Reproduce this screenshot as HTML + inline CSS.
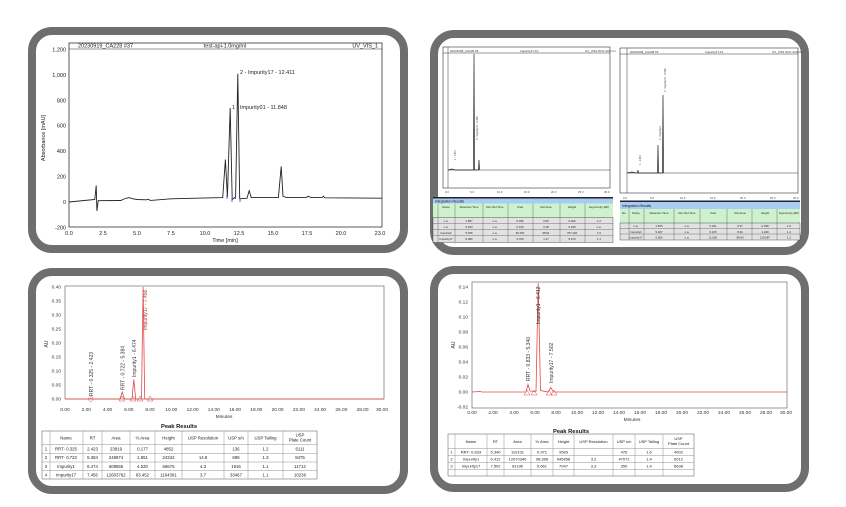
<!DOCTYPE html>
<html><head><meta charset="utf-8"><style>
html,body{margin:0;padding:0;background:#fff;}
svg{display:block;font-family:"Liberation Sans",sans-serif;}
</style></head><body>
<svg width="846" height="507" viewBox="0 0 846 507" xmlns="http://www.w3.org/2000/svg">
<rect width="846" height="507" fill="#fff"/>
<!-- panel frames -->
<g fill="#fff" stroke="#6e6e6e" stroke-width="8">
<rect x="32" y="31" width="372" height="218" rx="20"/>
<rect x="434" y="34" width="371" height="217" rx="20"/>
<rect x="32" y="272" width="372" height="218" rx="20"/>
<rect x="434" y="270" width="371" height="218" rx="20"/>
</g>

<!-- PANEL 1 -->
<g>
<rect x="69" y="43" width="313" height="184" fill="#fff" stroke="#333" stroke-width="0.8"/>
<line x1="69" y1="49" x2="382" y2="49" stroke="#333" stroke-width="0.6"/>
<text x="78" y="47.5" font-size="5.5" fill="#222">20230919_CA228 #37</text>
<text x="225" y="47.5" font-size="5.5" fill="#222" text-anchor="middle">test-api-1.0mg/ml</text>
<text x="378" y="47.5" font-size="5.5" fill="#222" text-anchor="end">UV_VIS_1</text>
<g font-size="5.5" fill="#222" text-anchor="end">
<text x="66" y="51.5">1,200</text><text x="66" y="76.9">1,000</text><text x="66" y="102.3">800</text>
<text x="66" y="127.7">600</text><text x="66" y="153.1">400</text><text x="66" y="178.5">200</text>
<text x="66" y="203.9">0</text><text x="66" y="229.3">-200</text>
</g>
<g font-size="5.5" fill="#222" text-anchor="middle">
<text x="69" y="235">0.0</text><text x="103" y="235">2.5</text><text x="137" y="235">5.0</text>
<text x="171" y="235">7.5</text><text x="205" y="235">10.0</text><text x="239" y="235">12.5</text>
<text x="273" y="235">15.0</text><text x="307" y="235">17.5</text><text x="341" y="235">20.0</text>
<text x="380" y="235">23.0</text>
<text x="225" y="242">Time [min]</text>
</g>
<text transform="translate(45,138) rotate(-90)" font-size="5.5" fill="#222" text-anchor="middle">Absorbance [mAU]</text>
<polyline fill="none" stroke="#222" stroke-width="0.9" points="69,202 94.8,199.5 96.2,185.5 96.9,210.9 98.2,200.7 120.7,200.5 124,199 128.8,197.6 133,198.8 137,199.5 146.5,199.8 147.9,199.2 150.6,200.4 171,198.8 222.7,197.6 225.4,159.5 227.4,197 230.2,108 232.2,199.5 235.6,197 237.8,73.7 239.7,198.8 247,198.2 249.2,190.6 251.2,197.6 278.4,197.6 281.2,166.4 283,196.3 286.6,197.6 305.6,197.6 308.4,196.3 311.1,197.6 322,197.6 323.4,196.3 324.8,197.8 381.8,198.2"/>
<g stroke="#33d" stroke-width="0.8"><line x1="227" y1="195" x2="227" y2="199"/><line x1="232" y1="198" x2="232" y2="202"/><line x1="235.5" y1="195" x2="235.5" y2="199"/><line x1="240" y1="198" x2="240" y2="202"/></g>
<text x="232" y="109" font-size="5.5" fill="#222">1 - Impurity01 - 11.848</text>
<text x="240" y="74" font-size="5.5" fill="#222">2 - Impurity17 - 12.411</text>
</g>

<!-- PANEL 2 left -->
<g>
<rect x="443" y="47" width="167" height="141" fill="#fff" stroke="#333" stroke-width="0.6"/>
<line x1="443" y1="53" x2="610" y2="53" stroke="#333" stroke-width="0.5"/>
<line x1="448" y1="47" x2="448" y2="188" stroke="#333" stroke-width="0.5"/>
<g font-size="3" fill="#333"><text x="450" y="52">20231008_CA228 #6</text><text x="520" y="52">Impurity17-10</text><text x="585" y="52">UV_VIS1 WVL:220 nm</text></g>
<line x1="448" y1="170" x2="610" y2="170" stroke="#333" stroke-width="0.6"/>
<polyline fill="none" stroke="#222" stroke-width="0.7" points="448,170 452,169 455,170 473.5,170 474,54 474.5,170 478.5,170 479,160 479.5,170"/>
<g font-size="2.8" fill="#444"><text x="445" y="193">0.0</text><text x="470" y="193">5.0</text><text x="497" y="193">10.0</text><text x="524" y="193">15.0</text><text x="551" y="193">20.0</text><text x="578" y="193">25.0</text><text x="604" y="193">30.0</text></g>
<text transform="translate(456,160) rotate(-90)" font-size="2.5" fill="#444">1 - 1.857</text>
<text transform="translate(478,140) rotate(-90)" font-size="2.5" fill="#444">3 - Impurity17 - 6.380</text>
<rect x="433" y="197" width="180" height="1.5" fill="#223"/>
<rect x="433" y="198.5" width="180" height="5" fill="#a9cdf0"/>
<text x="435" y="202.5" font-size="3.5" fill="#112">Integration Results</text>
<rect x="433" y="203.5" width="180" height="14" fill="#cdf2cd"/>
<rect x="433" y="217.5" width="180" height="25" fill="#e2e2e2" stroke="#333" stroke-width="0.4"/>
<g stroke="#555" stroke-width="0.4"><line x1="438" y1="203.5" x2="438" y2="242.5"/><line x1="455" y1="203.5" x2="455" y2="242.5"/><line x1="483" y1="203.5" x2="483" y2="242.5"/><line x1="508" y1="203.5" x2="508" y2="242.5"/><line x1="533" y1="203.5" x2="533" y2="242.5"/><line x1="560" y1="203.5" x2="560" y2="242.5"/><line x1="585" y1="203.5" x2="585" y2="242.5"/>
<line x1="433" y1="223.5" x2="613" y2="223.5"/><line x1="433" y1="229.5" x2="613" y2="229.5"/><line x1="433" y1="235.5" x2="613" y2="235.5"/></g>
<g font-size="2.8" fill="#222" text-anchor="middle"><text x="446" y="208">Name</text><text x="469" y="208">Retention Time</text><text x="495" y="208">Rel. Ret.Time</text><text x="520" y="208">Area</text><text x="546" y="208">Rel.Area</text><text x="572" y="208">Height</text><text x="599" y="208">Asymmetry (EP)</text>
<text x="446" y="222">n.a.</text><text x="469" y="222">1.857</text><text x="495" y="222">n.a.</text><text x="520" y="222">0.036</text><text x="546" y="222">0.06</text><text x="572" y="222">0.460</text><text x="599" y="222">1.2</text>
<text x="446" y="228">n.a.</text><text x="469" y="228">5.223</text><text x="495" y="228">n.a.</text><text x="520" y="228">0.106</text><text x="546" y="228">0.18</text><text x="572" y="228">0.918</text><text x="599" y="228">n.a.</text>
<text x="446" y="234">Impurity1</text><text x="469" y="234">5.455</text><text x="495" y="234">n.a.</text><text x="520" y="234">63.781</text><text x="546" y="234">98.61</text><text x="572" y="234">757.226</text><text x="599" y="234">1.5</text>
<text x="446" y="240">Impurity17</text><text x="469" y="240">6.380</text><text x="495" y="240">n.a.</text><text x="520" y="240">0.760</text><text x="546" y="240">1.17</text><text x="572" y="240">8.270</text><text x="599" y="240">1.1</text></g>
</g>

<!-- PANEL 2 right -->
<g>
<rect x="620" y="48" width="178" height="145" fill="#fff" stroke="#333" stroke-width="0.6"/>
<line x1="620" y1="54" x2="798" y2="54" stroke="#333" stroke-width="0.5"/>
<line x1="627" y1="48" x2="627" y2="193" stroke="#333" stroke-width="0.5"/>
<g font-size="3" fill="#333"><text x="630" y="53">20231008_CA228 #4</text><text x="705" y="53">Impurity17-12</text><text x="772" y="53">UV_VIS1 WVL:220 nm</text></g>
<line x1="627" y1="173" x2="798" y2="173" stroke="#333" stroke-width="0.6"/>
<polyline fill="none" stroke="#222" stroke-width="0.7" points="627,173 632,172 636,173 637.5,173 638,170 638.5,173 657.5,173 658,145 658.5,173 662.5,173 663,95 663.5,173"/>
<g font-size="2.8" fill="#444"><text x="623" y="199">0.0</text><text x="650" y="199">5.0</text><text x="680" y="199">10.0</text><text x="710" y="199">15.0</text><text x="740" y="199">20.0</text><text x="770" y="199">25.0</text><text x="793" y="199">30.0</text></g>
<text transform="translate(641,165) rotate(-90)" font-size="2.5" fill="#444">1 - 1.815</text>
<text transform="translate(661,140) rotate(-90)" font-size="2.5" fill="#444">2 - Impurity1</text>
<text transform="translate(666,92) rotate(-90)" font-size="2.5" fill="#444">3 - Impurity17 - 6.560</text>
<rect x="620" y="200.5" width="180" height="1.5" fill="#223"/>
<rect x="620" y="202" width="180" height="7" fill="#a9cdf0"/>
<text x="622" y="207" font-size="3.5" fill="#112">Integration Results</text>
<rect x="620" y="209" width="180" height="14" fill="#cdf2cd"/>
<rect x="620" y="223" width="180" height="17" fill="#e2e2e2" stroke="#333" stroke-width="0.4"/>
<g stroke="#555" stroke-width="0.4"><line x1="629" y1="209" x2="629" y2="240"/><line x1="644" y1="209" x2="644" y2="240"/><line x1="674" y1="209" x2="674" y2="240"/><line x1="700" y1="209" x2="700" y2="240"/><line x1="727" y1="209" x2="727" y2="240"/><line x1="752" y1="209" x2="752" y2="240"/><line x1="777" y1="209" x2="777" y2="240"/><line x1="620" y1="228.5" x2="800" y2="228.5"/><line x1="620" y1="234" x2="800" y2="234"/></g>
<g font-size="2.8" fill="#222" text-anchor="middle"><text x="624" y="214">No.</text><text x="636" y="214">Name</text><text x="659" y="214">Retention Time</text><text x="687" y="214">Rel. Ret.Time</text><text x="713" y="214">Area</text><text x="740" y="214">Rel.Area</text><text x="765" y="214">Height</text><text x="789" y="214">Asymmetry (EP)</text>
<text x="636" y="227">n.a.</text><text x="659" y="227">1.815</text><text x="687" y="227">n.a.</text><text x="713" y="227">0.041</text><text x="740" y="227">0.37</text><text x="765" y="227">0.338</text><text x="789" y="227">1.6</text>
<text x="636" y="233">Impurity1</text><text x="659" y="233">5.467</text><text x="687" y="233">n.a.</text><text x="713" y="233">0.105</text><text x="740" y="233">0.94</text><text x="765" y="233">1.249</text><text x="789" y="233">1.2</text>
<text x="636" y="238.5">Impurity17</text><text x="659" y="238.5">6.560</text><text x="687" y="238.5">n.a.</text><text x="713" y="238.5">11.000</text><text x="740" y="238.5">98.69</text><text x="765" y="238.5">119.687</text><text x="789" y="238.5">1.2</text></g>
</g>

<!-- PANEL 3 -->
<g>
<rect x="65" y="286" width="319" height="113" fill="none" stroke="#555" stroke-width="0.6"/>
<g font-size="4.8" fill="#333" text-anchor="end">
<text x="61" y="288.5">0.40</text><text x="61" y="302.5">0.35</text><text x="61" y="316.5">0.30</text><text x="61" y="330.5">0.25</text><text x="61" y="344.5">0.20</text><text x="61" y="358.5">0.15</text><text x="61" y="372.5">0.10</text><text x="61" y="386.5">0.05</text><text x="61" y="400.5">0.00</text></g>
<text transform="translate(48,344) rotate(-90)" font-size="5" fill="#333" text-anchor="middle">AU</text>
<g font-size="4.8" fill="#333" text-anchor="middle">
<text x="65" y="411">0.00</text><text x="86.3" y="411">2.00</text><text x="107.5" y="411">4.00</text><text x="128.8" y="411">6.00</text><text x="150" y="411">8.00</text><text x="171.3" y="411">10.00</text><text x="192.6" y="411">12.00</text><text x="213.8" y="411">14.00</text><text x="235.1" y="411">16.00</text><text x="256.3" y="411">18.00</text><text x="277.6" y="411">20.00</text><text x="298.9" y="411">22.00</text><text x="320.1" y="411">24.00</text><text x="341.4" y="411">26.00</text><text x="362.6" y="411">28.00</text><text x="382" y="411">30.00</text>
<text x="224" y="418">Minutes</text></g>
<polyline fill="none" stroke="#e54848" stroke-width="0.8" points="65,399 89.5,399 90.7,398.4 92,399 120,399 122.2,392 124.5,399 132,399 133.8,379.4 135.7,399 141.5,399 143.1,287 144.7,399 384,399"/>
<g fill="none" stroke="#e54848" stroke-width="0.5"><circle cx="90.7" cy="399" r="2.4"/><path d="M119,401 L122,396 L125,401 Z M130,401 L133,396 L136,401 Z M137,401 L140,396 L143,401 Z M147,401 L150,396 L153,401 Z"/></g>
<g font-size="5" fill="#333">
<text transform="translate(93,396) rotate(-90)">RRT - 0.325 - 2.423</text>
<text transform="translate(124.5,390) rotate(-90)">RRT - 0.722 - 5.384</text>
<text transform="translate(136,377) rotate(-90)">Impurity1 - 6.474</text>
<text transform="translate(147,330) rotate(-90)" fill="#a33">Impurity17 - 7.456</text></g>
<text x="179" y="428" font-size="5.8" font-weight="bold" fill="#111" text-anchor="middle">Peak Results</text>
<rect x="42" y="431" width="275" height="48" fill="#fff" stroke="#555" stroke-width="0.5"/>
<g stroke="#777" stroke-width="0.4">
<line x1="50" y1="431" x2="50" y2="479"/><line x1="83" y1="431" x2="83" y2="479"/><line x1="102" y1="431" x2="102" y2="479"/><line x1="130" y1="431" x2="130" y2="479"/><line x1="155" y1="431" x2="155" y2="479"/><line x1="182" y1="431" x2="182" y2="479"/><line x1="224" y1="431" x2="224" y2="479"/><line x1="248" y1="431" x2="248" y2="479"/><line x1="283" y1="431" x2="283" y2="479"/>
<line x1="42" y1="444.7" x2="317" y2="444.7"/><line x1="42" y1="453.3" x2="317" y2="453.3"/><line x1="42" y1="462" x2="317" y2="462"/><line x1="42" y1="470.7" x2="317" y2="470.7"/></g>
<g font-size="4.3" fill="#222" text-anchor="middle">
<text x="66" y="439.5">Name</text><text x="92.5" y="439.5">RT</text><text x="116" y="439.5">Area</text><text x="142.5" y="439.5">% Area</text><text x="168.5" y="439.5">Height</text><text x="203" y="439.5">USP Resolution</text><text x="236" y="439.5">USP s/n</text><text x="265.5" y="439.5">USP Tailing</text><text x="300" y="436.5">USP</text><text x="300" y="441.5">Plate Count</text>
<text x="46" y="450.5">1</text><text x="66" y="450.5">RRT- 0.325</text><text x="92.5" y="450.5">2.423</text><text x="116" y="450.5">23819</text><text x="142.5" y="450.5">0.177</text><text x="168.5" y="450.5">4852</text><text x="236" y="450.5">136</text><text x="265.5" y="450.5">1.2</text><text x="300" y="450.5">6111</text>
<text x="46" y="459.2">2</text><text x="66" y="459.2">RRT- 0.722</text><text x="92.5" y="459.2">5.384</text><text x="116" y="459.2">248874</text><text x="142.5" y="459.2">1.851</text><text x="168.5" y="459.2">24342</text><text x="203" y="459.2">14.8</text><text x="236" y="459.2">699</text><text x="265.5" y="459.2">1.3</text><text x="300" y="459.2">8475</text>
<text x="46" y="467.9">3</text><text x="66" y="467.9">Impurity1</text><text x="92.5" y="467.9">6.474</text><text x="116" y="467.9">609555</text><text x="142.5" y="467.9">4.520</text><text x="168.5" y="467.9">66675</text><text x="203" y="467.9">4.3</text><text x="236" y="467.9">1916</text><text x="265.5" y="467.9">1.1</text><text x="300" y="467.9">11712</text>
<text x="46" y="476.5">4</text><text x="66" y="476.5">Impurity17</text><text x="92.5" y="476.5">7.456</text><text x="116" y="476.5">12603762</text><text x="142.5" y="476.5">93.452</text><text x="168.5" y="476.5">1164301</text><text x="203" y="476.5">3.7</text><text x="236" y="476.5">33467</text><text x="265.5" y="476.5">1.1</text><text x="300" y="476.5">10236</text></g>
</g>

<!-- PANEL 4 -->
<g>
<rect x="472" y="282" width="315" height="126" fill="none" stroke="#555" stroke-width="0.6"/>
<g font-size="4.8" fill="#333" text-anchor="end">
<text x="468" y="288.5">0.14</text><text x="468" y="303.5">0.12</text><text x="468" y="318.5">0.10</text><text x="468" y="333.5">0.08</text><text x="468" y="348.5">0.06</text><text x="468" y="363.5">0.04</text><text x="468" y="378.5">0.02</text><text x="468" y="393.5">0.00</text><text x="468" y="408.5">-0.02</text></g>
<text transform="translate(455,345) rotate(-90)" font-size="5" fill="#333" text-anchor="middle">AU</text>
<g font-size="4.8" fill="#333" text-anchor="middle">
<text x="472" y="414">0.00</text><text x="493" y="414">2.00</text><text x="514" y="414">4.00</text><text x="535" y="414">6.00</text><text x="556" y="414">8.00</text><text x="577" y="414">10.00</text><text x="598" y="414">12.00</text><text x="619" y="414">14.00</text><text x="640" y="414">16.00</text><text x="661" y="414">18.00</text><text x="682" y="414">20.00</text><text x="703" y="414">22.00</text><text x="724" y="414">24.00</text><text x="745" y="414">26.00</text><text x="766" y="414">28.00</text><text x="786" y="414">30.00</text>
<text x="632" y="421">Minutes</text></g>
<polyline fill="none" stroke="#e54848" stroke-width="0.8" points="472,392 480,391.5 482,392 526,392 528,384.5 530,391 536,391.5 538.2,283 540.5,390.5 548,392 550.8,387.5 553.5,392 787,392"/>
<g fill="none" stroke="#e54848" stroke-width="0.5"><path d="M524,395 L527,390 L530,395 Z M531,395 L534,390 L537,395 Z M546,395 L549,390 L552,395 Z M551,395 L554,390 L557,395 Z"/></g>
<g font-size="5" fill="#333">
<text transform="translate(530,381) rotate(-90)">RRT - 0.833 - 5.340</text>
<text transform="translate(540,324) rotate(-90)">Impurity1 - 6.412</text>
<text transform="translate(553,383) rotate(-90)">Impurity17 - 7.502</text></g>
<text x="571" y="433" font-size="5.8" font-weight="bold" fill="#111" text-anchor="middle">Peak Results</text>
<rect x="448" y="434" width="246" height="42" fill="#fff" stroke="#555" stroke-width="0.5"/>
<g stroke="#777" stroke-width="0.4">
<line x1="455" y1="434" x2="455" y2="476"/><line x1="487" y1="434" x2="487" y2="476"/><line x1="504" y1="434" x2="504" y2="476"/><line x1="531" y1="434" x2="531" y2="476"/><line x1="553" y1="434" x2="553" y2="476"/><line x1="574" y1="434" x2="574" y2="476"/><line x1="613" y1="434" x2="613" y2="476"/><line x1="635" y1="434" x2="635" y2="476"/><line x1="663" y1="434" x2="663" y2="476"/>
<line x1="448" y1="448.5" x2="694" y2="448.5"/><line x1="448" y1="455.5" x2="694" y2="455.5"/><line x1="448" y1="462.5" x2="694" y2="462.5"/><line x1="448" y1="469.5" x2="694" y2="469.5"/></g>
<g font-size="4" fill="#222" text-anchor="middle">
<text x="471" y="443">Name</text><text x="495.5" y="443">RT</text><text x="517.5" y="443">Area</text><text x="542" y="443">% Area</text><text x="563.5" y="443">Height</text><text x="593.5" y="443">USP Resolution</text><text x="624" y="443">USP s/n</text><text x="649" y="443">USP Tailing</text><text x="678.5" y="440">USP</text><text x="678.5" y="445">Plate Count</text>
<text x="451.5" y="453.5">1</text><text x="471" y="453.5">RRT- 0.833</text><text x="495.5" y="453.5">5.340</text><text x="517.5" y="453.5">119101</text><text x="542" y="453.5">0.971</text><text x="563.5" y="453.5">9583</text><text x="624" y="453.5">476</text><text x="649" y="453.5">1.6</text><text x="678.5" y="453.5">4002</text>
<text x="451.5" y="460.5">2</text><text x="471" y="460.5">Impurity1</text><text x="495.5" y="460.5">6.412</text><text x="517.5" y="460.5">12070340</text><text x="542" y="460.5">98.368</text><text x="563.5" y="460.5">945858</text><text x="593.5" y="460.5">3.2</text><text x="624" y="460.5">47071</text><text x="649" y="460.5">1.4</text><text x="678.5" y="460.5">6012</text>
<text x="451.5" y="467.5">3</text><text x="471" y="467.5">Impurity17</text><text x="495.5" y="467.5">7.502</text><text x="517.5" y="467.5">81196</text><text x="542" y="467.5">0.661</text><text x="563.5" y="467.5">7047</text><text x="593.5" y="467.5">3.3</text><text x="624" y="467.5">350</text><text x="649" y="467.5">1.4</text><text x="678.5" y="467.5">8638</text></g>
</g>
</svg>
</body></html>
